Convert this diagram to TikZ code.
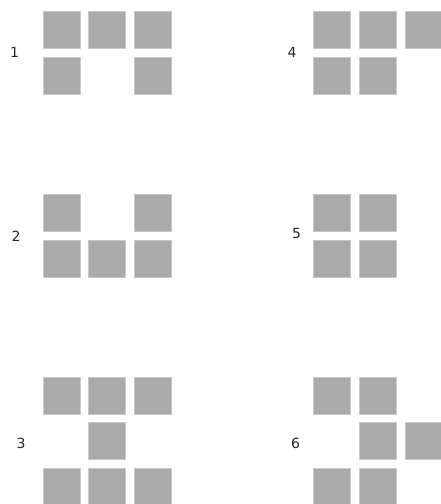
\documentclass[tikz,border=0pt]{standalone}
\usepackage{fontspec}
\setmainfont{DejaVu Sans}
\definecolor{sqfill}{RGB}{170,170,170}
\definecolor{sqedge}{RGB}{200,200,200}
\begin{document}
\begin{tikzpicture}[x=1pt,y=-1pt,
  sq/.style={draw=sqedge,fill=sqfill,line width=1pt,minimum size=37pt,inner sep=0pt,anchor=north west},
  lbl/.style={font=\fontsize{14}{16}\selectfont,text=black!85,inner sep=0pt}]
\useasboundingbox (0,0) rectangle (441,504);
% columns
\def\La{42.5}\def\Lb{88.2}\def\Lc{133.8}
\def\Ra{312.8}\def\Rb{358.8}\def\Rc{404.5}
% group 1
\node[lbl] (l1) at (14.5,52) {1};
\node[sq] (s1a) at (\La,10.5) {};
\node[sq] (s1b) at (\Lb,10.5) {};
\node[sq] (s1c) at (\Lc,10.5) {};
\node[sq] (s1d) at (\La,56.5) {};
\node[sq] (s1e) at (\Lc,56.5) {};
% group 4
\node[lbl] (l4) at (292,52) {4};
\node[sq] (s4a) at (\Ra,10.5) {};
\node[sq] (s4b) at (\Rb,10.5) {};
\node[sq] (s4c) at (\Rc,10.5) {};
\node[sq] (s4d) at (\Ra,56.5) {};
\node[sq] (s4e) at (\Rb,56.5) {};
% group 2
\node[lbl] (l2) at (16,236) {2};
\node[sq] (s2a) at (\La,193.8) {};
\node[sq] (s2b) at (\Lc,193.8) {};
\node[sq] (s2c) at (\La,239.8) {};
\node[sq] (s2d) at (\Lb,239.8) {};
\node[sq] (s2e) at (\Lc,239.8) {};
% group 5
\node[lbl] (l5) at (296.5,233) {5};
\node[sq] (s5a) at (\Ra,193.8) {};
\node[sq] (s5b) at (\Rb,193.8) {};
\node[sq] (s5c) at (\Ra,239.8) {};
\node[sq] (s5d) at (\Rb,239.8) {};
% group 3
\node[lbl] (l3) at (21,443) {3};
\node[sq] (s3a) at (\La,376.5) {};
\node[sq] (s3b) at (\Lb,376.5) {};
\node[sq] (s3c) at (\Lc,376.5) {};
\node[sq] (s3d) at (\Lb,421.8) {};
\node[sq] (s3e) at (\La,467.8) {};
\node[sq] (s3f) at (\Lb,467.8) {};
\node[sq] (s3g) at (\Lc,467.8) {};
% group 6
\node[lbl] (l6) at (295.5,443) {6};
\node[sq] (s6a) at (\Ra,376.5) {};
\node[sq] (s6b) at (\Rb,376.5) {};
\node[sq] (s6c) at (\Rb,421.8) {};
\node[sq] (s6d) at (\Rc,421.8) {};
\node[sq] (s6e) at (\Ra,467.8) {};
\node[sq] (s6f) at (\Rb,467.8) {};
\end{tikzpicture}
\end{document}
